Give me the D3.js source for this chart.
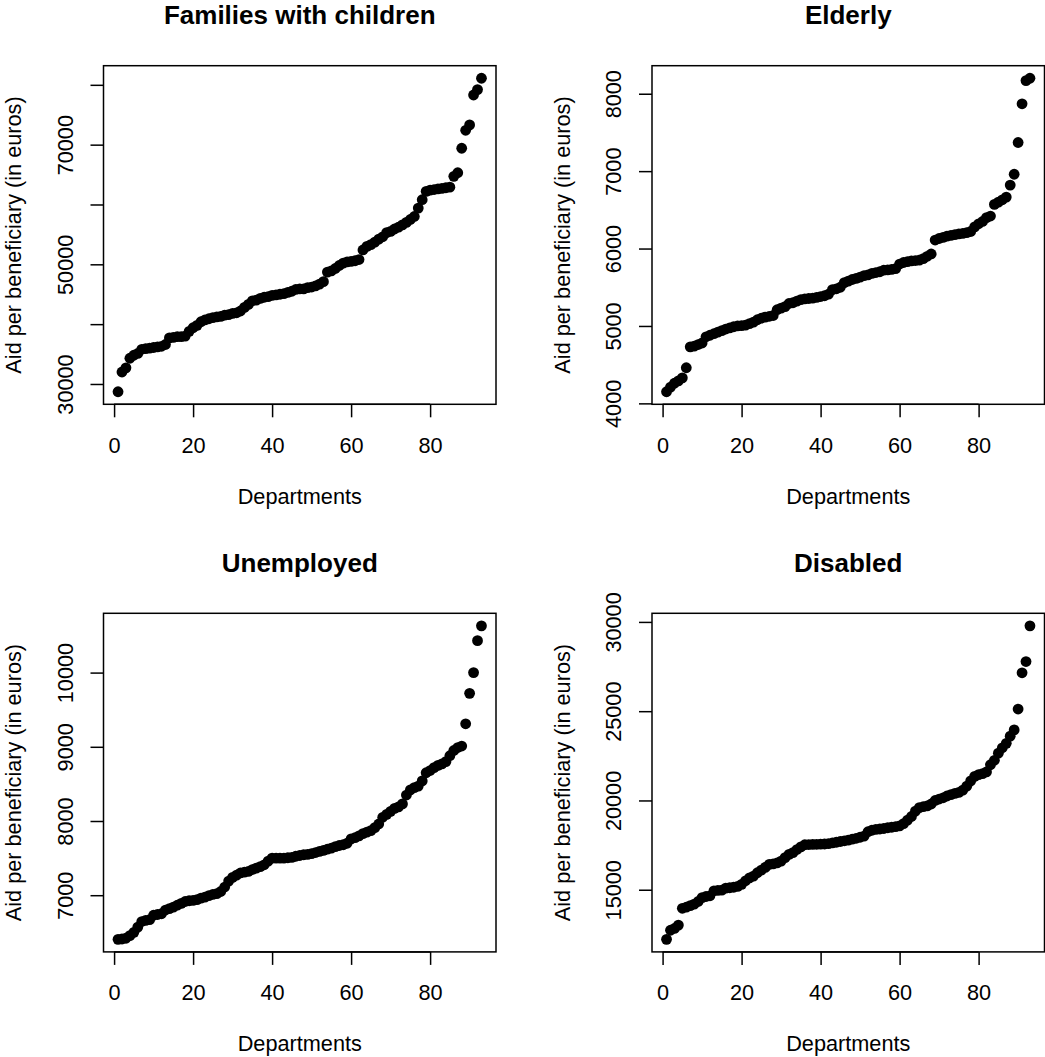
<!DOCTYPE html>
<html>
<head>
<meta charset="utf-8">
<script src="https://cdn.jsdelivr.net/npm/d3@7"></script>
<style>
  body { margin: 0; background: #fff; }
  svg { display: block; }
  text { font-family: "Liberation Sans", Arial, Helvetica, sans-serif; fill: #000; }
</style>
</head>
<body>
<svg id="chart" width="1045" height="1057"></svg>
<script>
// ---------- data ----------
const titles = ["Families with children", "Elderly", "Unemployed", "Disabled"];
const xLabel = "Departments";
const yLabel = "Aid per beneficiary (in euros)";
const xTicks = [0, 20, 40, 60, 80];

const families = [28700,32000,32700,34300,34800,35100,35800,35900,36000,36100,
  36200,36300,36600,37700,37800,37900,37900,38000,38800,39400,
  39800,40400,40700,40900,41100,41200,41300,41500,41600,41800,
  41900,42200,42800,43300,43900,44000,44300,44500,44600,44800,
  44900,45000,45100,45300,45500,45800,45900,45900,46100,46200,
  46400,46700,47100,48700,48900,49300,49800,50200,50400,50500,
  50600,50800,52400,53000,53300,53700,54200,54600,55300,55500,
  55900,56200,56600,57000,57500,58000,59400,60800,62200,62400,
  62500,62600,62700,62800,62900,64700,65300,69400,72400,73300,
  78300,79200,81100];

const elderly = [4150,4210,4260,4290,4330,4460,4730,4740,4760,4780,
  4860,4880,4900,4920,4940,4960,4975,4990,5000,5005,
  5010,5030,5050,5080,5100,5115,5125,5135,5210,5230,
  5250,5290,5300,5320,5340,5350,5355,5360,5370,5380,
  5390,5410,5470,5480,5500,5560,5580,5600,5615,5630,
  5650,5660,5680,5690,5700,5720,5725,5730,5740,5800,
  5820,5830,5840,5845,5850,5870,5900,5930,6110,6130,
  6145,6160,6170,6180,6190,6195,6205,6220,6280,6320,
  6350,6400,6420,6570,6600,6630,6665,6820,6960,7370,
  7870,8170,8200];

const unemployed = [6405,6410,6420,6455,6500,6570,6645,6660,6670,6730,
  6740,6750,6800,6820,6840,6865,6890,6915,6925,6930,
  6940,6960,6975,6995,7010,7020,7050,7110,7190,7240,
  7270,7300,7310,7320,7345,7365,7385,7410,7460,7500,
  7500,7500,7500,7505,7510,7525,7535,7545,7550,7560,
  7575,7590,7605,7620,7635,7655,7670,7680,7700,7760,
  7775,7800,7830,7850,7870,7910,7960,8050,8090,8130,
  8170,8190,8230,8350,8420,8450,8470,8540,8650,8680,
  8720,8750,8770,8800,8880,8950,8990,9010,9310,9720,
  10000,10430,10630];

const disabled = [12220,12730,12830,13020,13960,14020,14110,14190,14340,14560,
  14620,14660,14940,14960,14980,15090,15110,15140,15190,15300,
  15500,15660,15760,15950,16100,16250,16420,16450,16500,16600,
  16800,16980,17080,17250,17400,17520,17530,17540,17545,17550,
  17560,17580,17620,17660,17700,17740,17780,17830,17880,17940,
  18000,18250,18330,18380,18400,18430,18470,18500,18530,18580,
  18700,18900,19100,19400,19600,19650,19700,19800,20000,20080,
  20150,20250,20330,20400,20450,20580,20800,21100,21350,21450,
  21500,21600,22000,22250,22650,22950,23200,23600,23950,25120,
  27150,27780,29780];

const yTicks = [
  [30000, 40000, 50000, 60000, 70000, 80000],
  [4000, 5000, 6000, 7000, 8000],
  [7000, 8000, 9000, 10000],
  [15000, 20000, 25000, 30000]
];
const yTickLabels = [
  ["30000", "", "50000", "", "70000", ""],
  ["4000", "5000", "6000", "7000", "8000"],
  ["7000", "8000", "9000", "10000"],
  ["15000", "20000", "25000", "30000"]
];

const series = [families, elderly, unemployed, disabled];

// ---------- layout ----------
const boxes = [
  {x: 103.5, y: 65.7,  w: 392.5, h: 338.6},
  {x: 652,   y: 65.7,  w: 392.5, h: 338.6},
  {x: 103.5, y: 613.3, w: 392.5, h: 338.6},
  {x: 652,   y: 613.3, w: 392.5, h: 338.6}
];

const svg = d3.select("#chart");
const lw = 1.5;

series.forEach((vals, k) => {
  const b = boxes[k];
  const n = vals.length;
  const xr = (n - 1) * 0.04;
  const x = d3.scaleLinear().domain([1 - xr, n + xr]).range([0, b.w]);
  const lo = d3.min(vals), hi = d3.max(vals);
  const yr = (hi - lo) * 0.04;
  const y = d3.scaleLinear().domain([lo - yr, hi + yr]).range([b.h, 0]);

  const g = svg.append("g").attr("transform", `translate(${b.x},${b.y})`);

  // points
  g.selectAll("circle").data(vals).enter().append("circle")
    .attr("cx", (d, i) => x(i + 1))
    .attr("cy", d => y(d))
    .attr("r", 5.4)
    .attr("fill", "#000");

  // box
  g.append("rect").attr("x", 0).attr("y", 0).attr("width", b.w).attr("height", b.h)
    .attr("fill", "none").attr("stroke", "#000").attr("stroke-width", lw);

  // x axis
  const xa = g.append("g").attr("transform", `translate(0,${b.h})`)
    .call(d3.axisBottom(x).tickValues(xTicks).tickSize(13).tickSizeOuter(0).tickFormat(d3.format("d")));
  xa.select(".domain").remove();
  xa.selectAll("line").attr("stroke", "#000").attr("stroke-width", lw);
  xa.selectAll("text").attr("y", 48.5).attr("dy", 0)
    .style("font-size", "21.7px").style("font-family", "'Liberation Sans', Arial, sans-serif").attr("fill", "#000");
  // axis line from first to last tick
  g.append("line").attr("x1", x(xTicks[0])).attr("x2", x(xTicks[xTicks.length - 1]))
    .attr("y1", b.h).attr("y2", b.h).attr("stroke", "#000").attr("stroke-width", lw);

  // y axis
  const labels = yTickLabels[k];
  const ticks = yTicks[k];
  const ya = g.append("g")
    .call(d3.axisLeft(y).tickValues(ticks).tickSize(13).tickSizeOuter(0)
      .tickFormat((d, i) => labels[i]));
  ya.select(".domain").remove();
  ya.selectAll("line").attr("stroke", "#000").attr("stroke-width", lw);
  ya.selectAll("text")
    .attr("transform", "rotate(-90)")
    .attr("x", 0).attr("y", -30.8).attr("dy", 0)
    .attr("text-anchor", "middle")
    .style("font-size", "21.7px").style("font-family", "'Liberation Sans', Arial, sans-serif").attr("fill", "#000");

  // title
  svg.append("text")
    .attr("x", b.x + b.w / 2).attr("y", b.y - 41.4)
    .attr("text-anchor", "middle")
    .style("font-size", "26px").style("font-weight", "bold")
    .text(titles[k]);

  // x label
  svg.append("text")
    .attr("x", b.x + b.w / 2).attr("y", b.y + b.h + 99.5)
    .attr("text-anchor", "middle")
    .style("font-size", "21.7px")
    .text(xLabel);

  // y label
  svg.append("text")
    .attr("transform", `translate(${b.x - 82.5},${b.y + b.h / 2}) rotate(-90)`)
    .attr("text-anchor", "middle")
    .style("font-size", "21.7px")
    .text(yLabel);
});
</script>
</body>
</html>
